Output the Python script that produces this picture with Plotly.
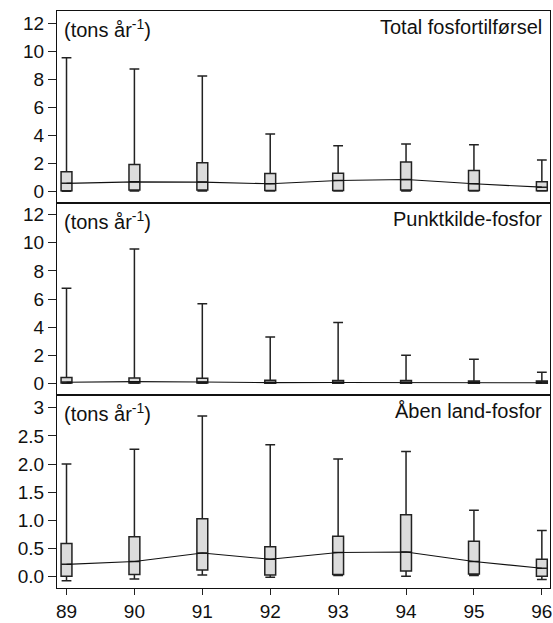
import plotly.graph_objects as go
from plotly.subplots import make_subplots

years = [89, 90, 91, 92, 93, 94, 95, 96]
year_labels = ["89", "90", "91", "92", "93", "94", "95", "96"]

panel_titles = ["Total fosfortilførsel", "Punktkilde-fosfor", "Åben land-fosfor"]
unit_label = "(tons år<sup>-1</sup>)"

# Total fosfortilførsel
tot_low = [0.04, 0.05, 0.06, 0.05, 0.05, 0.06, 0.05, 0.05]
tot_q1 = [0.08, 0.12, 0.12, 0.10, 0.10, 0.12, 0.10, 0.08]
tot_med = [0.60, 0.71, 0.69, 0.57, 0.81, 0.88, 0.57, 0.33]
tot_q3 = [1.43, 1.95, 2.07, 1.31, 1.33, 2.12, 1.52, 0.71]
tot_high = [9.55, 8.75, 8.25, 4.11, 3.28, 3.40, 3.35, 2.26]

# Punktkilde-fosfor
pkt_low = [0.0, 0.0, 0.0, 0.0, 0.0, 0.0, 0.0, 0.0]
pkt_q1 = [0.02, 0.03, 0.02, 0.01, 0.01, 0.01, 0.01, 0.01]
pkt_med = [0.08, 0.12, 0.10, 0.05, 0.06, 0.05, 0.04, 0.04]
pkt_q3 = [0.42, 0.38, 0.36, 0.22, 0.20, 0.20, 0.17, 0.17]
pkt_high = [6.77, 9.55, 5.67, 3.30, 4.32, 2.00, 1.71, 0.78]

# Åben land-fosfor
aab_low = [-0.07, -0.04, 0.03, -0.01, 0.02, 0.01, 0.02, -0.05]
aab_q1 = [0.01, 0.04, 0.12, 0.03, 0.04, 0.10, 0.05, 0.01]
aab_med = [0.22, 0.27, 0.42, 0.31, 0.43, 0.44, 0.27, 0.15]
aab_q3 = [0.59, 0.71, 1.03, 0.53, 0.72, 1.10, 0.63, 0.31]
aab_high = [2.00, 2.26, 2.85, 2.34, 2.09, 2.22, 1.18, 0.82]

y12_vals = [0, 2, 4, 6, 8, 10, 12]
y12_text = ["0", "2", "4", "6", "8", "10", "12"]
y3_vals = [0.0, 0.5, 1.0, 1.5, 2.0, 2.5, 3.0]
y3_text = ["0.0", "0.5", "1.0", "1.5", "2.0", "2.5", "3"]

FONT = "Liberation Sans, Arial, sans-serif"
FS = 19
FS_ANN = 20
BOX_FILL = "#dcdcdc"
LINE = "#222222"

fig = make_subplots(rows=3, cols=1, shared_xaxes=True, vertical_spacing=0)

panels = [
    (tot_low, tot_q1, tot_med, tot_q3, tot_high),
    (pkt_low, pkt_q1, pkt_med, pkt_q3, pkt_high),
    (aab_low, aab_q1, aab_med, aab_q3, aab_high),
]

for i, (lo, q1, med, q3, hi) in enumerate(panels, start=1):
    fig.add_trace(go.Box(
        x=years, q1=q1, median=med, q3=q3, lowerfence=lo, upperfence=hi,
        width=0.16, whiskerwidth=0.9,
        fillcolor=BOX_FILL, line=dict(color=LINE, width=1.5),
        boxpoints=False, showlegend=False, hoverinfo="skip",
    ), row=i, col=1)
    fig.add_trace(go.Scatter(
        x=years, y=med, mode="lines",
        line=dict(color="#111111", width=1.1),
        showlegend=False, hoverinfo="skip",
    ), row=i, col=1)

domains = [[0.6672, 1.0], [0.3345, 0.6672], [0.0, 0.3345]]
yranges = [[-0.8, 12.88], [-0.83, 12.83], [-0.2, 3.225]]

for i in range(1, 4):
    fig.update_yaxes(
        domain=domains[i - 1], range=yranges[i - 1],
        tickvals=y12_vals if i < 3 else y3_vals,
        ticktext=y12_text if i < 3 else y3_text,
        ticks="outside", ticklen=8, tickwidth=1, tickcolor="#222",
        showline=True, mirror=True, linecolor="#111", linewidth=1.2,
        showgrid=False, zeroline=False,
        tickfont=dict(family=FONT, size=FS, color="#111"),
        row=i, col=1)
    fig.update_xaxes(
        range=[88.86, 96.12],
        tickvals=years, ticktext=year_labels,
        showline=True, mirror=True, linecolor="#111", linewidth=1.2,
        showgrid=False, zeroline=False,
        ticks="outside" if i == 3 else "", ticklen=6, tickwidth=1, tickcolor="#222",
        showticklabels=(i == 3), ticklabeloverflow="allow",
        tickfont=dict(family=FONT, size=FS, color="#111"),
        row=i, col=1)

for i in range(1, 4):
    xd = "x domain" if i == 1 else f"x{i} domain"
    yd = "y domain" if i == 1 else f"y{i} domain"
    fig.add_annotation(
        x=0, y=1, xref=xd, yref=yd, xanchor="left", yanchor="top",
        xshift=5, yshift=-3, text=unit_label, showarrow=False,
        font=dict(family=FONT, size=FS_ANN, color="#111"))
    fig.add_annotation(
        x=1, y=1, xref=xd, yref=yd, xanchor="right", yanchor="top",
        xshift=-6, yshift=-3, text=panel_titles[i - 1], showarrow=False,
        font=dict(family=FONT, size=FS_ANN, color="#111"))

fig.update_layout(
    width=553, height=623,
    margin=dict(l=57, r=1, t=11, b=35),
    paper_bgcolor="white", plot_bgcolor="white",
    font=dict(family=FONT, size=FS, color="#111"),
    boxmode="group",
)

fig.write_html(
    "out.html",
    config={"displayModeBar": False},
    post_script="document.body.style.margin='0';document.body.style.overflow='hidden';",
)
